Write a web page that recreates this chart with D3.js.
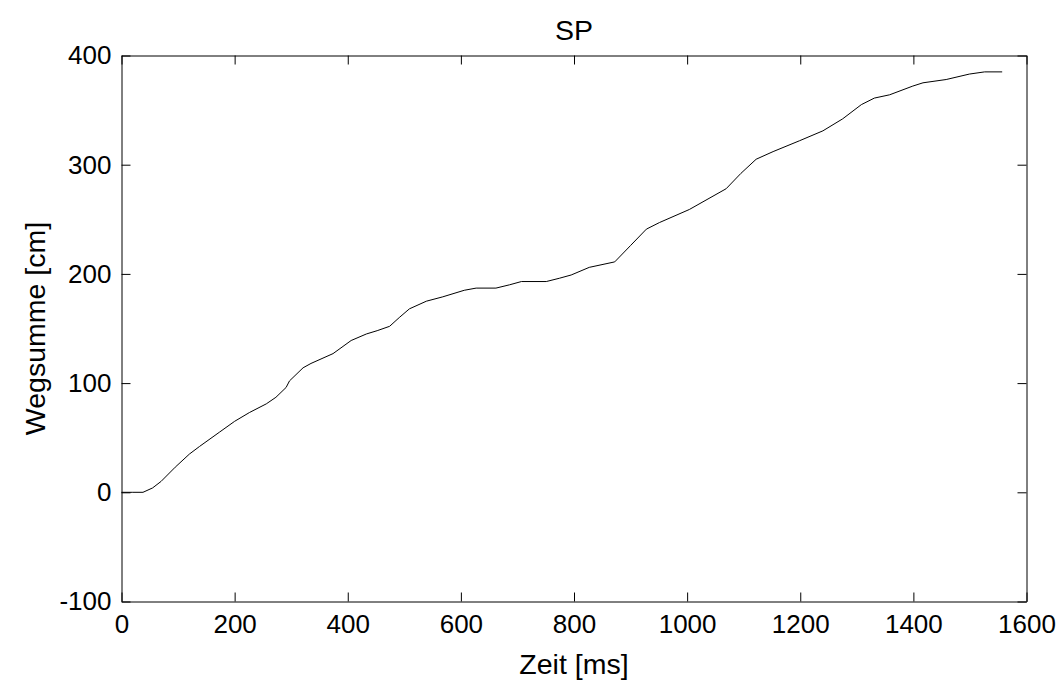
<!DOCTYPE html>
<html>
<head>
<meta charset="utf-8">
<script src="https://cdn.jsdelivr.net/npm/d3@7"></script>
<style>
  body { margin: 0; background: #fff; }
  text { font-family: "Liberation Sans", Arial, sans-serif; fill: #000; }
</style>
</head>
<body>
<div id="chart"></div>
<script>

// data: time [ms] and cumulative distance [cm]
var zeit = [0, 20, 38, 55, 70, 95, 120, 138, 173, 200, 226, 256, 273, 291, 297, 321, 335,
    374, 406, 433, 452, 474, 491, 509, 539, 568, 606, 627, 662, 686, 707, 751, 774, 795,
    827, 872, 900, 928, 951, 1004, 1069, 1095, 1122, 1152, 1199, 1240, 1275, 1308, 1331,
    1358, 1399, 1417, 1458, 1499, 1526, 1557];
var wegsumme = [0, 0, 0, 4, 10, 23, 35, 42, 55, 65, 73, 81, 87, 96, 102, 114, 118,
    127, 139, 145, 148, 152, 160, 168, 175, 179, 185, 187, 187, 190, 193, 193, 196, 199,
    206, 211, 226, 241, 247, 259, 278, 292, 305, 312, 322, 331, 342, 355, 361,
    364, 372, 375, 378, 383, 385, 385];

var xTicks = [0, 200, 400, 600, 800, 1000, 1200, 1400, 1600];
var yTicks = [-100, 0, 100, 200, 300, 400];

var margin = { top: 55.5, right: 37.5, bottom: 78.5, left: 121.5 },
    width = 1064 - margin.left - margin.right,
    height = 680 - margin.top - margin.bottom;

var svg = d3.select("#chart")
    .append("svg")
    .attr("width", 1064)
    .attr("height", 680)
    .append("g")
    .attr("transform", "translate(" + margin.left + "," + margin.top + ")");

var x = d3.scaleLinear().domain([0, 1600]).range([0, width]);
var y = d3.scaleLinear().domain([-100, 400]).range([height, 0]);

var plain = d => String(d);   // no thousands separator, plain hyphen for minus

// bottom axis with labels, ticks pointing inward
svg.append("g")
    .attr("transform", "translate(0," + height + ")")
    .call(d3.axisBottom(x).tickValues(xTicks).tickFormat(plain)
        .tickSizeInner(-9).tickSizeOuter(0).tickPadding(13))
    .call(g => g.selectAll("text").style("font-size", "26px"));

// top axis, ticks only
svg.append("g")
    .call(d3.axisTop(x).tickValues(xTicks).tickSizeInner(-9).tickSizeOuter(0).tickFormat(""));

// left axis with labels
svg.append("g")
    .call(d3.axisLeft(y).tickValues(yTicks).tickFormat(plain)
        .tickSizeInner(-9).tickSizeOuter(0).tickPadding(10))
    .call(g => g.selectAll("text").style("font-size", "26px"));

// right axis, ticks only
svg.append("g")
    .attr("transform", "translate(" + width + ",0)")
    .call(d3.axisRight(y).tickValues(yTicks).tickSizeInner(-9).tickSizeOuter(0).tickFormat(""));

svg.selectAll(".domain, .tick line").attr("stroke", "#000").attr("stroke-width", 1);

// the curve
var pts = zeit.map((t, i) => [t, wegsumme[i]]);
svg.append("path")
    .datum(pts)
    .attr("fill", "none")
    .attr("stroke", "#000")
    .attr("stroke-width", 1)
    .attr("d", d3.line().x(d => x(d[0])).y(d => y(d[1])));

// title and labels
svg.append("text")
    .attr("x", width / 2)
    .attr("y", -16)
    .attr("text-anchor", "middle")
    .style("font-size", "28.5px")
    .text("SP");

svg.append("text")
    .attr("x", width / 2)
    .attr("y", height + 72)
    .attr("text-anchor", "middle")
    .style("font-size", "28.5px")
    .text("Zeit [ms]");

svg.append("text")
    .attr("transform", "rotate(-90)")
    .attr("x", -height / 2)
    .attr("y", -margin.left + 45)
    .attr("text-anchor", "middle")
    .style("font-size", "28.5px")
    .text("Wegsumme [cm]");

</script>
</body>
</html>
